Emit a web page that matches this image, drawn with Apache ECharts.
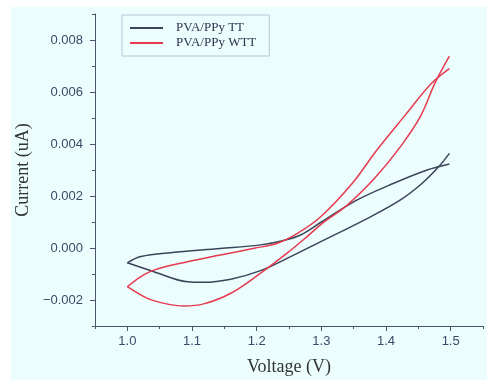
<!DOCTYPE html>
<html>
<head>
<meta charset="utf-8">
<script src="https://cdn.jsdelivr.net/npm/echarts@6/dist/echarts.min.js"></script>
<style>
  html, body { margin: 0; padding: 0; background: #ffffff; }
  #chart { position: absolute; left: 11px; top: 7px; width: 476px; height: 373px; background: #ebfdfd; }
</style>
</head>
<body>
<div id="chart"></div>
<script>
// PVA/PPy TT, forward and reverse branches (V, A)
const ttFwdV = [1.0, 1.021, 1.067, 1.144, 1.206, 1.24, 1.268, 1.3, 1.3555, 1.412, 1.4637, 1.498]
const ttFwdI = [-0.00057, -0.00033, -0.00018, -0.00002, 0.00012, 0.00028, 0.0005, 0.001, 0.00185, 0.00249, 0.003, 0.00323]
const ttRevV = [1.0, 1.041, 1.093, 1.118, 1.16, 1.206, 1.247, 1.294, 1.376, 1.4224, 1.456, 1.4817, 1.498]
const ttRevI = [-0.00057, -0.00091, -0.0013, -0.00132, -0.0012, -0.00087, -0.0004, 0.00018, 0.0012, 0.00185, 0.00249, 0.00313, 0.00364]

// PVA/PPy WTT
const wttFwdV = [1.0, 1.021, 1.041, 1.093, 1.144, 1.196, 1.232, 1.263, 1.299, 1.348, 1.386, 1.43, 1.469, 1.498]
const wttFwdI = [-0.00149, -0.0011, -0.00085, -0.00053, -0.00027, -0.00001, 0.00018, 0.00056, 0.0012, 0.00249, 0.00377, 0.00512, 0.0063, 0.0069]
const wttRevV = [1.0, 1.031, 1.057, 1.0875, 1.118, 1.16, 1.206, 1.247, 1.278, 1.3, 1.34, 1.383, 1.4224, 1.453, 1.4755, 1.498]
const wttRevI = [-0.00149, -0.00194, -0.00213, -0.00223, -0.00215, -0.00174, -0.00097, -0.0002, 0.00044, 0.00092, 0.00165, 0.0027, 0.0039, 0.00505, 0.00633, 0.00738]

const xMajor = [1.0, 1.1, 1.2, 1.3, 1.4, 1.5]
const yMajor = [-0.002, 0, 0.002, 0.004, 0.006, 0.008]

const names = ['PVA/PPy TT', 'PVA/PPy WTT']
const colors = ['#3b4458', '#e63a4e']

const zip = (xs, ys) => xs.map((x, i) => [x, ys[i]])

const chart = echarts.init(document.getElementById('chart'))

const axisColor = '#4b5468'
const labelColor = '#3b4a68'

function branch(name, color, data) {
  return {
    name: name,
    type: 'line',
    data: data,
    smooth: 0.35,
    symbol: 'none',
    animation: false,
    lineStyle: { color: color, width: 1.5 },
    itemStyle: { color: color }
  }
}

const option = {
  backgroundColor: 'transparent',
  grid: { left: 84, right: 4, top: 7, bottom: 54, outerBoundsMode: 'none' },
  legend: {
    data: names,
    orient: 'vertical',
    left: 111,
    top: 8,
    padding: [6, 13, 6, 8],
    itemGap: 1,
    icon: 'rect',
    itemWidth: 33,
    itemHeight: 2,
    borderColor: '#b9c6da',
    borderWidth: 1,
    textStyle: {
      fontFamily: 'Liberation Serif',
      fontSize: 13,
      lineHeight: 14,
      color: '#2d3550',
      padding: [0, 0, 0, 8]
    }
  },
  xAxis: [
    {
      type: 'value',
      min: 0.95,
      max: 1.55,
      name: 'Voltage (V)',
      nameLocation: 'middle',
      nameGap: 32,
      nameTextStyle: { fontFamily: 'Liberation Serif', fontSize: 18, color: '#333333' },
      axisLine: { show: true, onZero: false, lineStyle: { color: axisColor, width: 1 } },
      axisTick: { show: true, customValues: xMajor, length: 5, lineStyle: { color: axisColor } },
      axisLabel: {
        customValues: xMajor,
        margin: 9,
        fontFamily: 'Liberation Sans',
        fontSize: 13,
        color: labelColor,
        formatter: (v) => v.toFixed(1)
      },
      splitLine: { show: false }
    },
    {
      type: 'value',
      min: 0.95,
      max: 1.55,
      interval: 0.05,
      position: 'bottom',
      axisLine: { show: false, onZero: false },
      axisTick: { show: true, length: 3, lineStyle: { color: axisColor } },
      axisLabel: { show: false },
      splitLine: { show: false }
    }
  ],
  yAxis: [
    {
      type: 'value',
      min: -0.003,
      max: 0.009,
      name: 'Current (uA)',
      nameLocation: 'middle',
      nameGap: 61,
      nameTextStyle: { fontFamily: 'Liberation Serif', fontSize: 18, color: '#333333' },
      axisLine: { show: true, onZero: false, lineStyle: { color: axisColor, width: 1 } },
      axisTick: { show: true, customValues: yMajor, length: 5, lineStyle: { color: axisColor } },
      axisLabel: {
        customValues: yMajor,
        margin: 12,
        fontFamily: 'Liberation Sans',
        fontSize: 13,
        color: labelColor,
        formatter: (v) => v.toFixed(3).replace('-', '\u2212')
      },
      splitLine: { show: false }
    },
    {
      type: 'value',
      min: -0.003,
      max: 0.009,
      interval: 0.001,
      position: 'left',
      axisLine: { show: false, onZero: false },
      axisTick: { show: true, length: 3, lineStyle: { color: axisColor } },
      axisLabel: { show: false },
      splitLine: { show: false }
    }
  ],
  series: [
    branch(names[0], colors[0], zip(ttFwdV, ttFwdI)),
    branch(names[0], colors[0], zip(ttRevV, ttRevI)),
    branch(names[1], colors[1], zip(wttFwdV, wttFwdI)),
    branch(names[1], colors[1], zip(wttRevV, wttRevI))
  ]
}

chart.setOption(option)
</script>
</body>
</html>
